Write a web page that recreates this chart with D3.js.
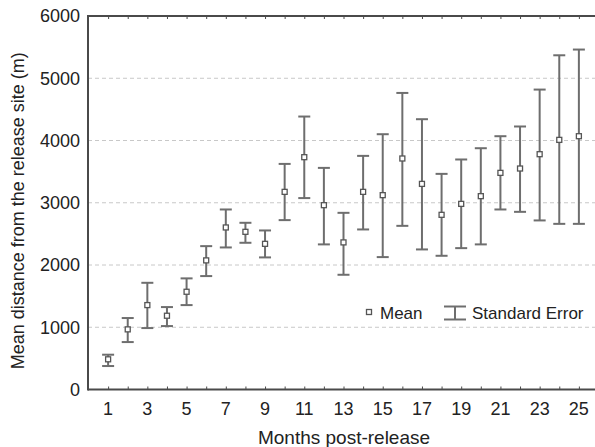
<!DOCTYPE html>
<html>
<head>
<meta charset="utf-8">
<script src="https://cdn.jsdelivr.net/npm/d3@7"></script>
<style>
  body { margin: 0; background: #fff; }
  svg { display: block; font-family: "Liberation Sans", Arial, sans-serif; }
</style>
</head>
<body>
<div class="svg-container"></div>
<script>
const widthSVG = 595;
const heightSVG = 447;

// datos
const months = [1, 2, 3, 4, 5, 6, 7, 8, 9, 10, 11, 12, 13, 14, 15, 16, 17, 18, 19, 20, 21, 22, 23, 24, 25];
const means = [485, 966, 1356, 1185, 1570, 2074, 2603, 2533, 2340, 3175, 3732, 2961, 2363, 3175, 3122, 3711, 3303, 2806, 2982, 3106, 3480, 3550, 3780, 4010, 4069];
const upper = [559, 1148, 1714, 1324, 1785, 2303, 2892, 2678, 2555, 3624, 4385, 3560, 2838, 3753, 4101, 4764, 4342, 3464, 3695, 3876, 4069, 4225, 4818, 5369, 5461];
const lower = [377, 762, 987, 1019, 1356, 1822, 2282, 2357, 2122, 2721, 3075, 2331, 1843, 2571, 2127, 2629, 2250, 2148, 2271, 2331, 2892, 2854, 2716, 2661, 2661];
const xTickLabels = [1, 3, 5, 7, 9, 11, 13, 15, 17, 19, 21, 23, 25];
const yTicks = [0, 1000, 2000, 3000, 4000, 5000, 6000];
const gridValues = [1000, 2000, 3000, 4000, 5000];

const plotLeft = 88, plotTop = 16, plotBottom = 389.5;
const axisColor = '#4a4a4a';
const barColor = '#6e6e6e';
const textColor = '#222';

const svg = d3.select('.svg-container')
  .append('svg')
  .attr('width', widthSVG)
  .attr('height', heightSVG);

const x = d3.scaleLinear().domain([0, 26]).range([88.5, 598.5]);
const y = d3.scaleLinear().domain([0, 6000]).range([plotBottom, plotTop]);

// lineas de la cuadricula
svg.selectAll('line.grid')
  .data(gridValues)
  .enter().append('line')
  .attr('class', 'grid')
  .attr('x1', plotLeft).attr('x2', widthSVG)
  .attr('y1', d => y(d)).attr('y2', d => y(d))
  .attr('stroke', '#c8c8c8')
  .attr('stroke-width', 1)
  .attr('stroke-dasharray', '4,3');

// ejes con marcas hacia dentro
const xAxisBottom = d3.axisBottom(x).tickValues(months).tickSize(-3).tickFormat('');
const xAxisTop = d3.axisTop(x).tickValues(months).tickSize(-3).tickFormat('');

const gb = svg.append('g').attr('transform', `translate(0,${plotBottom})`).call(xAxisBottom);
const gt = svg.append('g').attr('transform', `translate(0,${plotTop})`).call(xAxisTop);
[gb, gt].forEach(g => {
  g.select('.domain').remove();
  g.selectAll('.tick line').attr('stroke', axisColor).attr('stroke-width', 1);
});

// etiquetas del eje x
svg.selectAll('text.xlab')
  .data(xTickLabels)
  .enter().append('text')
  .attr('class', 'xlab')
  .attr('x', d => x(d))
  .attr('y', 415)
  .attr('text-anchor', 'middle')
  .attr('font-size', '18px')
  .attr('fill', textColor)
  .text(d => d);

// etiquetas del eje y
svg.selectAll('text.ylab')
  .data(yTicks)
  .enter().append('text')
  .attr('class', 'ylab')
  .attr('x', 80)
  .attr('y', d => y(d))
  .attr('dy', '0.35em')
  .attr('text-anchor', 'end')
  .attr('font-size', '18px')
  .attr('fill', textColor)
  .text(d => d);

// marco
svg.append('line')
  .attr('x1', plotLeft).attr('x2', widthSVG).attr('y1', plotBottom).attr('y2', plotBottom)
  .attr('stroke', axisColor).attr('stroke-width', 2);
svg.append('line')
  .attr('x1', plotLeft).attr('x2', widthSVG).attr('y1', plotTop).attr('y2', plotTop)
  .attr('stroke', axisColor).attr('stroke-width', 2);
svg.append('line')
  .attr('x1', plotLeft).attr('x2', plotLeft).attr('y1', plotTop - 1).attr('y2', plotBottom + 1)
  .attr('stroke', axisColor).attr('stroke-width', 2);

// barras de error
const data = months.map((m, i) => ({ m, mean: means[i], hi: upper[i], lo: lower[i] }));
const capW = 6;

const bars = svg.append('g').attr('class', 'errorbars');
bars.selectAll('line.stem')
  .data(data)
  .enter().append('line')
  .attr('class', 'stem')
  .attr('x1', d => x(d.m)).attr('x2', d => x(d.m))
  .attr('y1', d => y(d.hi)).attr('y2', d => y(d.lo))
  .attr('stroke', barColor).attr('stroke-width', 2);
bars.selectAll('line.capHi')
  .data(data)
  .enter().append('line')
  .attr('class', 'capHi')
  .attr('x1', d => x(d.m) - capW).attr('x2', d => x(d.m) + capW)
  .attr('y1', d => y(d.hi)).attr('y2', d => y(d.hi))
  .attr('stroke', barColor).attr('stroke-width', 2);
bars.selectAll('line.capLo')
  .data(data)
  .enter().append('line')
  .attr('class', 'capLo')
  .attr('x1', d => x(d.m) - capW).attr('x2', d => x(d.m) + capW)
  .attr('y1', d => y(d.lo)).attr('y2', d => y(d.lo))
  .attr('stroke', barColor).attr('stroke-width', 2);

// medias
bars.selectAll('rect.mean')
  .data(data)
  .enter().append('rect')
  .attr('class', 'mean')
  .attr('x', d => x(d.m) - 2.5)
  .attr('y', d => y(d.mean) - 2.5)
  .attr('width', 5).attr('height', 5)
  .attr('fill', '#fff')
  .attr('stroke', '#555')
  .attr('stroke-width', 1.3);

// leyenda
const legend = svg.append('g').attr('class', 'legend');
legend.append('rect')
  .attr('x', 366.5).attr('y', 309.5).attr('width', 5).attr('height', 5)
  .attr('fill', '#fff').attr('stroke', '#555').attr('stroke-width', 1.3);
legend.append('text')
  .attr('x', 380).attr('y', 319)
  .attr('font-size', '17px').attr('fill', textColor)
  .text('Mean');
legend.append('line')
  .attr('x1', 455).attr('x2', 455).attr('y1', 306.5).attr('y2', 319.5)
  .attr('stroke', barColor).attr('stroke-width', 2);
legend.append('line')
  .attr('x1', 444).attr('x2', 466).attr('y1', 306.5).attr('y2', 306.5)
  .attr('stroke', barColor).attr('stroke-width', 2);
legend.append('line')
  .attr('x1', 444).attr('x2', 466).attr('y1', 319.5).attr('y2', 319.5)
  .attr('stroke', barColor).attr('stroke-width', 2);
legend.append('text')
  .attr('x', 472).attr('y', 319)
  .attr('font-size', '17px').attr('fill', textColor)
  .text('Standard Error');

// titulos de los ejes
svg.append('text')
  .attr('x', 344).attr('y', 444)
  .attr('text-anchor', 'middle')
  .attr('font-size', '19px').attr('fill', textColor)
  .text('Months post-release');
svg.append('text')
  .attr('transform', `translate(24,${(plotTop + plotBottom) / 2 + 8}) rotate(-90)`)
  .attr('text-anchor', 'middle')
  .attr('font-size', '18px').attr('fill', textColor)
  .text('Mean distance from the release site (m)');
</script>
</body>
</html>
